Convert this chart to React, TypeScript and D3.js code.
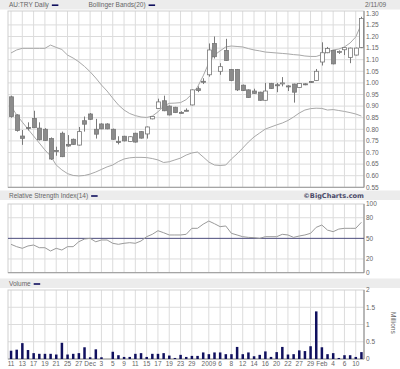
import React, { useEffect, useRef } from 'react';
import * as d3 from 'd3';

// AU:TRY daily, 11 Nov 2008 - 11 Feb 2009
const dates = [
  '11/11', '11/12', '11/13', '11/14', '11/17', '11/18', '11/19', '11/20', '11/21', '11/24', '11/25', '11/26', '11/27', '11/28',
  '12/1', '12/2', '12/3', '12/4', '12/5', '12/8', '12/9', '12/10', '12/11', '12/12', '12/15', '12/16', '12/17', '12/18', '12/19',
  '12/22', '12/23', '12/24', '12/29', '12/30', '12/31',
  '1/2', '1/5', '1/6', '1/7', '1/8', '1/9', '1/12', '1/13', '1/14', '1/15', '1/16', '1/19', '1/20', '1/21', '1/22', '1/23',
  '1/27', '1/28', '1/29', '1/30',
  '2/2', '2/3', '2/4', '2/5', '2/6', '2/9', '2/10', '2/11',
];

const open = [
  0.94, 0.862, 0.771, 0.808, 0.847, 0.805, 0.80, 0.76, 0.709, 0.783, 0.735, 0.757, 0.732, 0.837,
  0.866, 0.80, 0.823, 0.823, 0.80, 0.747, 0.77, 0.747, 0.783, 0.79, 0.78, 0.845, 0.89, 0.923, 0.90,
  0.895, 0.873, 0.882, 0.905, 0.975, 1.007,
  1.035, 1.17, 1.05, 1.14, 1.058, 1.058, 0.99, 0.97, 0.965, 0.96, 0.925, 0.998, 0.992, 1.0, 0.987, 0.995,
  0.98, 0.996, 1.006, 1.01,
  1.09, 1.13, 1.14, 1.133, 1.143, 1.11, 1.12, 1.153,
];
const high = [
  0.945, 0.865, 0.797, 0.83, 0.88, 0.83, 0.805, 0.765, 0.725, 0.79, 0.775, 0.76, 0.81, 0.855,
  0.87, 0.845, 0.826, 0.826, 0.803, 0.77, 0.772, 0.77, 0.785, 0.792, 0.812, 0.857, 0.932, 0.945, 0.903,
  0.897, 0.878, 0.89, 0.972, 0.985, 1.02,
  1.17, 1.20, 1.085, 1.19, 1.06, 1.06, 0.993, 0.972, 0.975, 0.962, 1.0, 1.0, 1.0, 1.025, 0.99, 0.997,
  0.999, 0.998, 1.008, 1.06,
  1.175, 1.155, 1.142, 1.14, 1.155, 1.152, 1.152, 1.285,
];
const low = [
  0.85, 0.79, 0.733, 0.795, 0.805, 0.752, 0.75, 0.668, 0.686, 0.68, 0.725, 0.733, 0.73, 0.79,
  0.84, 0.76, 0.80, 0.80, 0.755, 0.735, 0.748, 0.745, 0.743, 0.76, 0.76, 0.843, 0.888, 0.878, 0.86,
  0.87, 0.868, 0.878, 0.903, 0.96, 0.995,
  1.027, 1.105, 1.035, 1.095, 1.008, 0.965, 0.965, 0.935, 0.953, 0.923, 0.923, 0.974, 0.96, 0.985, 0.965, 0.915,
  0.978, 0.99, 1.0, 1.008,
  1.075, 1.128, 1.08, 1.125, 1.12, 1.085, 1.118, 1.15,
];
const close = [
  0.855, 0.795, 0.761, 0.805, 0.807, 0.755, 0.752, 0.672, 0.706, 0.682, 0.728, 0.735, 0.79, 0.822,
  0.843, 0.779, 0.802, 0.802, 0.757, 0.745, 0.75, 0.768, 0.745, 0.762, 0.81, 0.855, 0.918, 0.88, 0.862,
  0.872, 0.871, 0.88, 0.97, 0.967, 1.003,
  1.142, 1.113, 1.07, 1.097, 1.01, 0.97, 0.967, 0.937, 0.955, 0.925, 0.965, 0.976, 0.99, 1.0, 0.985, 0.96,
  0.997, 0.994, 1.004, 1.05,
  1.13, 1.148, 1.082, 1.135, 1.152, 1.15, 1.15, 1.278,
];

// millions
const volume = [
  0.24, 0.27, 0.46, 0.26, 0.17, 0.15, 0.15, 0.15, 0.13, 0.47, 0.13, 0.15, 0.17, 0.34,
  0.05, 0.28, 0.05, 0.0, 0.21, 0.11, 0.06, 0.06, 0.15, 0.17, 0.06, 0.15, 0.15, 0.17, 0.10,
  0.03, 0.12, 0.06, 0.09, 0.09, 0.19,
  0.14, 0.19, 0.19, 0.14, 0.14, 0.35, 0.14, 0.19, 0.08, 0.12, 0.22, 0.06, 0.20, 0.35, 0.13, 0.14,
  0.25, 0.23, 0.37, 1.38,
  0.34, 0.14, 0.17, 0.03, 0.11, 0.11, 0.06, 0.20,
];

const bbUpper = [
  1.129, 1.142, 1.149, 1.149, 1.149, 1.149, 1.149, 1.163, 1.153, 1.144, 1.120, 1.107, 1.091, 1.071,
  1.048, 1.021, 0.991, 0.965, 0.934, 0.905, 0.883, 0.868, 0.859, 0.853, 0.851, 0.857, 0.875, 0.90, 0.912,
  0.913, 0.915, 0.928, 0.952, 0.982, 1.030,
  1.086, 1.120, 1.138, 1.155, 1.159, 1.157, 1.155, 1.148, 1.142, 1.138, 1.133, 1.131, 1.129, 1.127, 1.125, 1.122,
  1.120, 1.116, 1.114, 1.114,
  1.122, 1.133, 1.142, 1.146, 1.155, 1.172, 1.198, 1.254,
];
const bbLower = [
  0.900, 0.862, 0.831, 0.801, 0.771, 0.741, 0.711, 0.685, 0.646, 0.625, 0.609, 0.601, 0.599, 0.601,
  0.607, 0.616, 0.627, 0.638, 0.646, 0.661, 0.672, 0.677, 0.679, 0.679, 0.678, 0.674, 0.668, 0.657, 0.660,
  0.668, 0.676, 0.689, 0.698, 0.702, 0.681,
  0.659, 0.646, 0.644, 0.646, 0.672, 0.694, 0.719, 0.745, 0.767, 0.784, 0.801, 0.810, 0.819, 0.827, 0.838, 0.853,
  0.870, 0.883, 0.889, 0.891,
  0.890, 0.883, 0.885, 0.881, 0.877, 0.872, 0.866, 0.857,
];

const rsi = [
  41.3, 37.9, 35.5, 38.9, 40.3, 36.4, 36.4, 31.6, 35.5, 33.0, 37.9, 37.9, 45.1, 49.0,
  50.0, 45.0, 47.6, 47.6, 42.8, 41.3, 42.8, 43.7, 42.8, 46.1, 52.4, 55.9, 61.1, 58.2, 54.9,
  54.9, 54.9, 55.9, 64.6, 64.6, 70.6,
  75.2, 71.3, 67.0, 68.0, 57.3, 54.9, 52.4, 51.4, 51.0, 50.0, 52.4, 52.4, 52.4, 55.9, 54.9, 51.4,
  53.4, 54.9, 57.3, 66.0,
  69.4, 62.0, 59.7, 63.5, 64.6, 64.6, 64.6, 73.4,
];

const tickDates = [
  '11/11', '11/13', '11/17', '11/19', '11/21', '11/25', '11/27', '12/1', '12/3', '12/5', '12/9',
  '12/11', '12/15', '12/17', '12/19', '12/23', '12/29', '1/2', '1/6', '1/8', '1/12', '1/14',
  '1/16', '1/20', '1/22', '1/27', '1/29', '2/2', '2/4', '2/6', '2/10',
];
const tickLabels = [
  '11', '13', '17', '19', '21', '25', '27', 'Dec', '3', '5', '9',
  '11', '15', '17', '19', '23', '29', '2009', '6', '8', '12', '14',
  '16', '20', '22', '27', '29', 'Feb', '4', '6', '10',
];

const priceTicks = [1.30, 1.25, 1.20, 1.15, 1.10, 1.05, 1.00, 0.95, 0.90, 0.85, 0.80, 0.75, 0.70, 0.65, 0.60, 0.55];
const rsiTicks = [100, 80, 50, 20, 0];
const volTicks = [2, 1.5, 1, 0.5, 0];

export default function App() {
  const svgRef = useRef<SVGSVGElement>(null);

  useEffect(() => {
    if (!svgRef.current) return;
    const svg = d3.select(svgRef.current);
    svg.selectAll('*').remove();

    const W = 400;
    const L = 8, R = 364;
    const font = "'Liberation Sans', Arial, sans-serif";
    const grid = '#dcdcdc';
    const txt = '#666';
    const navy = '#10105e';

    const x = d3.scalePoint<string>().domain(dates).range([11, 361.4]);
    const yP = d3.scaleLinear().domain([0.55, 1.30]).range([187.3, 13.3]);
    const yR = d3.scaleLinear().domain([0, 100]).range([272.7, 204]);
    const yV = d3.scaleLinear().domain([0, 2]).range([359, 290]);

    const panels = [
      { top: 11, bottom: yP(0.55) },
      { top: yR(100), bottom: yR(0) },
      { top: yV(2), bottom: yV(0) },
    ];

    svg.append('rect').attr('width', W).attr('height', 369).attr('fill', '#fff');

    // header bands
    const band = (y: number, h: number) =>
      svg.append('rect').attr('x', 0).attr('y', y).attr('width', W).attr('height', h).attr('fill', '#ececec');
    band(0, 9.5);
    band(190.5, 9.5);
    band(278.5, 9.5);

    const label = (xx: number, yy: number, s: string, anchor = 'start') =>
      svg.append('text').attr('x', xx).attr('y', yy).attr('text-anchor', anchor)
        .attr('font-family', font).attr('font-size', '6.5px')
        .attr('fill', txt).text(s);
    // legend title followed by a short navy key dash
    const legend = (xx: number, yy: number, s: string) => {
      const t = label(xx, yy, s);
      const w = (t.node() as SVGTextElement).getComputedTextLength();
      svg.append('rect').attr('x', xx + w + 3).attr('y', yy - 2.8)
        .attr('width', 6.5).attr('height', 1.6).attr('fill', navy);
    };

    legend(9, 7.2, 'AU:TRY Daily');
    legend(88.5, 7.2, 'Bollinger Bands(20)');
    label(365, 7.2, '2/11/09');
    legend(9, 198, 'Relative Strength Index(14)');
    legend(9, 286, 'Volume');
    svg.append('text').attr('x', 364).attr('y', 198.2).attr('text-anchor', 'end')
      .attr('font-family', "'DejaVu Sans', sans-serif").attr('font-size', '6.6px').attr('font-weight', 'bold')
      .attr('fill', '#4a4a68').text('\u00A9BigCharts.com');

    // grids
    panels.forEach(p => {
      svg.append('g').selectAll('line').data(tickDates).join('line')
        .attr('x1', d => x(d)!).attr('x2', d => x(d)!)
        .attr('y1', p.top).attr('y2', p.bottom)
        .attr('stroke', grid).attr('stroke-width', 1);
    });
    svg.append('g').selectAll('line').data(priceTicks.slice(1, -1)).join('line')
      .attr('x1', L).attr('x2', R).attr('y1', d => yP(d)).attr('y2', d => yP(d))
      .attr('stroke', grid);
    svg.append('g').selectAll('line').data([80, 20]).join('line')
      .attr('x1', L).attr('x2', R).attr('y1', d => yR(d)).attr('y2', d => yR(d))
      .attr('stroke', grid);
    svg.append('g').selectAll('line').data([1.5, 1, 0.5]).join('line')
      .attr('x1', L).attr('x2', R).attr('y1', d => yV(d)).attr('y2', d => yV(d))
      .attr('stroke', grid);

    // frames
    panels.forEach(p => {
      svg.append('rect').attr('x', L).attr('y', p.top).attr('width', R - L).attr('height', p.bottom - p.top)
        .attr('fill', 'none').attr('stroke', '#cfcfcf');
      svg.append('line').attr('x1', L).attr('x2', R).attr('y1', p.bottom).attr('y2', p.bottom)
        .attr('stroke', '#999');
      svg.append('line').attr('x1', R).attr('x2', R).attr('y1', p.top).attr('y2', p.bottom)
        .attr('stroke', '#888');
    });

    // right axis labels
    priceTicks.forEach(t => label(366, yP(t) + 2.3, t.toFixed(2)));
    rsiTicks.forEach(t => label(366, yR(t) + 2.3, String(t)));
    volTicks.forEach(t => label(366, yV(t) + 2.3, String(t)));
    svg.append('text').attr('transform', 'translate(391,312) rotate(90)')
      .attr('font-family', font).attr('font-size', '6.5px')
      .attr('fill', txt).text('Millions');

    // x labels
    tickDates.forEach((d, i) => label(x(d)!, 365.5, tickLabels[i], 'middle'));

    // Bollinger bands
    const bbLine = (vals: number[]) =>
      d3.line<number>().x((_, i) => x(dates[i])!).y(v => yP(v))(vals);
    [bbUpper, bbLower].forEach(vals =>
      svg.append('path').attr('d', bbLine(vals)).attr('fill', 'none')
        .attr('stroke', '#a8a8a8').attr('stroke-width', 1));

    // candles
    const cg = svg.append('g');
    dates.forEach((d, i) => {
      const cx = Math.round(x(d)!) + 0.5;
      const up = close[i] >= open[i];
      cg.append('line').attr('x1', cx).attr('x2', cx)
        .attr('y1', yP(high[i])).attr('y2', yP(low[i]))
        .attr('stroke', '#7a7a7a').attr('stroke-width', 1);
      const yt = yP(Math.max(open[i], close[i]));
      const yb = yP(Math.min(open[i], close[i]));
      cg.append('rect').attr('x', cx - 2).attr('y', yt)
        .attr('width', 4).attr('height', Math.max(1, yb - yt))
        .attr('fill', up ? '#fff' : '#8c8c8c').attr('stroke', '#777').attr('stroke-width', 0.8);
    });

    // RSI
    svg.append('line').attr('x1', L).attr('x2', R).attr('y1', yR(50)).attr('y2', yR(50))
      .attr('stroke', '#4c4c7c').attr('stroke-width', 1);
    svg.append('path')
      .attr('d', d3.line<number>().x((_, i) => x(dates[i])!).y(v => yR(v))(rsi))
      .attr('fill', 'none').attr('stroke', '#9a9a9a').attr('stroke-width', 1);

    // volume
    svg.append('g').selectAll('rect').data(volume).join('rect')
      .attr('x', (_, i) => x(dates[i])! - 1.2)
      .attr('y', v => yV(v))
      .attr('width', 2.5)
      .attr('height', v => yV(0) - yV(v))
      .attr('fill', navy);
  }, []);

  return (
    <svg
      ref={svgRef}
      width={400}
      height={369}
      style={{ position: 'absolute', left: 0, top: 0, display: 'block' }}
    />
  );
}
